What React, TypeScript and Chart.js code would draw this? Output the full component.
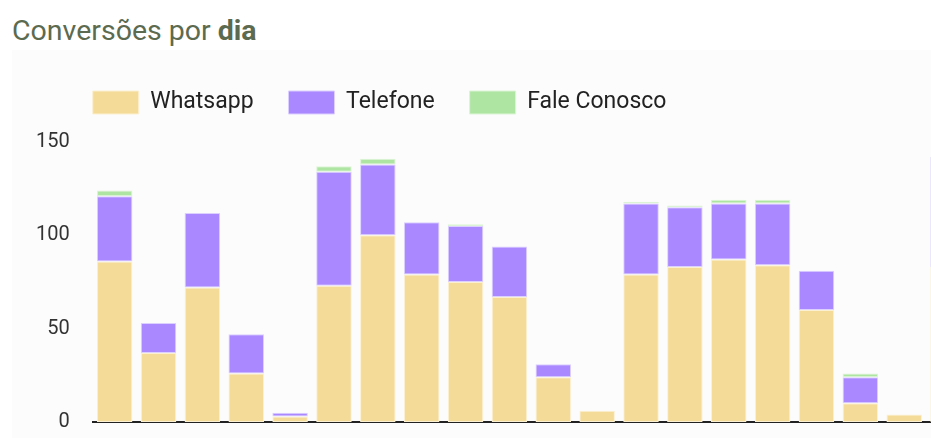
import { useEffect, useRef } from 'react'
import { Chart, registerables } from 'chart.js'
import type { Plugin } from 'chart.js'

Chart.register(...registerables)

const days = ['01', '02', '03', '04', '05', '06', '07', '08', '09', '10',
  '11', '12', '13', '14', '15', '16', '17', '18', '19', '20']
const whatsapp    = [86, 37, 72, 26, 3, 73, 100, 79, 75, 67, 24, 6, 79, 83, 87, 84, 60, 10, 4, 83]
const telefone    = [35, 16, 40, 21, 2, 61, 38, 28, 30, 27, 7, 0, 38, 32, 30, 33, 21, 14, 0, 59]
const faleConosco = [3, 0, 0, 0, 0, 3, 3, 0, 1, 0, 0, 0, 1, 1, 2, 2, 0, 2, 0, 0]
const yMax = 150
const yStep = 50

const LEGEND_PAD = 35   // space between legend items
const LEGEND_GAP = 18   // extra room under the legend

// legend starts at the plot's left edge and leaves a gap below it
const legendLayout: Plugin<'bar'> = {
  id: 'legendLayout',
  beforeInit(chart) {
    const legend = chart.legend as any
    if (!legend) return
    const fit = legend.fit
    legend.fit = function () { fit.call(this); this.height += LEGEND_GAP }
  },
  afterLayout(chart) {
    const legend = chart.legend as any
    if (!legend) return
    const shift = chart.chartArea.left - LEGEND_PAD - legend.left
    legend.left += shift
    legend.right += shift
  },
}

export default function App() {
  const canvasRef = useRef<HTMLCanvasElement>(null)
  const chartRef  = useRef<Chart | null>(null)

  useEffect(() => {
    if (!canvasRef.current) return
    if (chartRef.current) { chartRef.current.destroy() }

    Chart.defaults.font.family = 'Roboto'

    const bar = { borderWidth: 1, borderSkipped: false as const, stack: 'dia' }

    chartRef.current = new Chart(canvasRef.current, {
      type: 'bar',
      data: {
        labels: days,
        datasets: [
          { label: 'Whatsapp', data: whatsapp, backgroundColor: '#f5db98', borderColor: '#fcf0d2', ...bar },
          { label: 'Telefone', data: telefone, backgroundColor: '#aa88ff', borderColor: '#dcd0ff', ...bar },
          { label: 'Fale Conosco', data: faleConosco, backgroundColor: '#afe5a3', borderColor: '#dcf4d5', ...bar },
        ],
      },
      options: {
        responsive: true,
        maintainAspectRatio: false,
        animation: false,
        layout: { padding: { top: 6, left: 1, right: 0, bottom: 0 } },
        datasets: { bar: { categoryPercentage: 1, barPercentage: 0.81 } },
        plugins: {
          legend: {
            align: 'start',
            labels: {
              boxWidth: 46,
              boxHeight: 23,
              padding: LEGEND_PAD,
              color: '#222',
              font: { size: 23 },
            },
          },
          tooltip: { enabled: false },
        },
        scales: {
          x: {
            stacked: true,
            grid: { display: false, drawTicks: false },
            border: { display: true, color: '#222', width: 2 },
            ticks: { display: false },
          },
          y: {
            stacked: true,
            min: 0,
            max: yMax,
            grid: { display: false, drawTicks: false },
            border: { display: false },
            ticks: { stepSize: yStep, padding: 23, color: '#333', font: { size: 20 } },
          },
        },
      },
      plugins: [legendLayout],
    })

    return () => { chartRef.current?.destroy() }
  }, [])

  return (
    <div style={{ position: 'fixed', left: 0, top: 0, width: '100vw', height: '100vh', overflow: 'hidden', background: '#fff', fontFamily: 'Roboto' }}>
      <div style={{ position: 'absolute', left: 12, top: 17, fontSize: 28.5, lineHeight: '28.5px', color: '#5c6b4f', whiteSpace: 'nowrap' }}>
        Conversões por <b style={{ fontWeight: 700 }}>dia</b>
      </div>
      <div style={{ position: 'absolute', left: 12, top: 50, width: 958, height: 407, background: '#fcfcfc' }}>
        <canvas ref={canvasRef} role="img" aria-label="Conversões por dia, barras empilhadas" />
      </div>
    </div>
  )
}
